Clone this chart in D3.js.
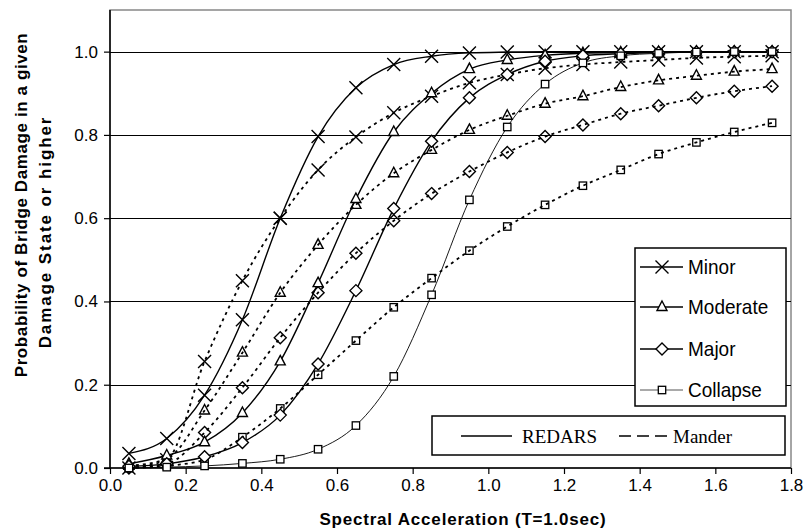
<!DOCTYPE html>
<html>
<head>
<meta charset="utf-8">
<script src="https://cdn.jsdelivr.net/npm/d3@7"></script>
<style>
body { margin:0; background:#fff; }
text { font-family: "Liberation Sans", Arial, sans-serif; fill:#000; }
</style>
</head>
<body>
<div id="chart"></div>
<script>
// spectral acceleration values (x)
var sa = [0.05, 0.15, 0.25, 0.35, 0.45, 0.55, 0.65, 0.75, 0.85, 0.95, 1.05, 1.15, 1.25, 1.35, 1.45, 1.55, 1.65, 1.75];

// REDARS curves
var redarsMinor    = [0.035, 0.071, 0.175, 0.356, 0.600, 0.796, 0.913, 0.969, 0.989, 0.997, 0.999, 1.0, 1.0, 1.0, 1.0, 1.0, 1.0, 1.0];
var redarsModerate = [0.010, 0.030, 0.062, 0.132, 0.256, 0.444, 0.646, 0.807, 0.900, 0.958, 0.980, 0.991, 0.996, 0.998, 0.999, 1.0, 1.0, 1.0];
var redarsMajor    = [0.004, 0.010, 0.027, 0.061, 0.127, 0.250, 0.426, 0.623, 0.785, 0.889, 0.945, 0.977, 0.990, 0.995, 0.998, 0.999, 1.0, 1.0];
var redarsCollapse = [0.000, 0.002, 0.005, 0.011, 0.021, 0.045, 0.102, 0.220, 0.416, 0.644, 0.819, 0.922, 0.973, 0.990, 0.996, 0.999, 1.0, 1.0];

// Mander curves
var manderMinor    = [0.000, 0.020, 0.256, 0.450, 0.600, 0.716, 0.795, 0.853, 0.893, 0.925, 0.945, 0.960, 0.969, 0.975, 0.980, 0.985, 0.988, 0.990];
var manderModerate = [0.005, 0.022, 0.138, 0.277, 0.421, 0.536, 0.632, 0.708, 0.764, 0.812, 0.846, 0.875, 0.893, 0.915, 0.931, 0.942, 0.952, 0.958];
var manderMajor    = [0.000, 0.010, 0.085, 0.193, 0.313, 0.421, 0.516, 0.594, 0.659, 0.712, 0.758, 0.796, 0.824, 0.851, 0.870, 0.889, 0.905, 0.917];
var manderCollapse = [0.000, 0.005, 0.020, 0.074, 0.143, 0.224, 0.306, 0.386, 0.456, 0.522, 0.580, 0.632, 0.678, 0.716, 0.754, 0.782, 0.807, 0.829];

var xTicks = [0, 0.2, 0.4, 0.6, 0.8, 1.0, 1.2, 1.4, 1.6, 1.8];
var yTicks = [0, 0.2, 0.4, 0.6, 0.8, 1.0];
var stateNames = ['Minor', 'Moderate', 'Major', 'Collapse'];
var stateMarkers = ['cross', 'triangle', 'diamond', 'square'];

var width = 804, height = 531;
var pLeft = 110, pRight = 791, pTop = 10, pBottom = 468;

var svg = d3.select('#chart').append('svg')
	.attr('width', width)
	.attr('height', height);

var x = d3.scaleLinear().domain([0, 1.8]).range([pLeft, pRight]);
var y = d3.scaleLinear().domain([0, 1.1]).range([pBottom, pTop]);

// plot frame
svg.append('rect')
	.attr('x', pLeft).attr('y', pTop)
	.attr('width', pRight-pLeft).attr('height', pBottom-pTop)
	.attr('fill', 'none').attr('stroke', '#888').attr('stroke-width', 1.5);

// gridlines
svg.selectAll('.grid').data(yTicks.slice(1)).enter().append('line')
	.attr('x1', pLeft).attr('x2', pRight)
	.attr('y1', function(d){ return Math.round(y(d))+0.5; })
	.attr('y2', function(d){ return Math.round(y(d))+0.5; })
	.attr('stroke', '#000').attr('stroke-width', 1);

// axes
var xAxis = svg.append('g')
	.attr('transform', 'translate(0,' + pBottom + ')')
	.call(d3.axisBottom(x).tickValues(xTicks).tickSize(6).tickPadding(5).tickFormat(d3.format('.1f')));
var yAxis = svg.append('g')
	.attr('transform', 'translate(' + pLeft + ',0)')
	.call(d3.axisLeft(y).tickValues(yTicks).tickSize(6).tickPadding(6).tickFormat(d3.format('.1f')));

[xAxis, yAxis].forEach(function(g){
	g.select('.domain').remove();
	g.selectAll('line').attr('stroke', '#000').attr('stroke-width', 1.2);
	g.selectAll('text').style('font-size', '17px').style('font-family', '"Liberation Sans", Arial, sans-serif');
});
svg.append('line').attr('x1', pLeft).attr('x2', pLeft).attr('y1', pTop).attr('y2', pBottom)
	.attr('stroke', '#000').attr('stroke-width', 1.5);
svg.append('line').attr('x1', pLeft-6).attr('x2', pRight).attr('y1', pBottom).attr('y2', pBottom)
	.attr('stroke', '#000').attr('stroke-width', 1.5);

// axis titles
svg.append('text')
	.attr('x', 463).attr('y', 525)
	.attr('text-anchor', 'middle')
	.style('font-size', '17px').style('font-weight', 'bold').style('letter-spacing', '0.8px')
	.text('Spectral Acceleration (T=1.0sec)');

var yt = svg.append('text')
	.attr('transform', 'translate(0,205) rotate(-90)')
	.attr('text-anchor', 'middle')
	.style('font-size', '17px').style('font-weight', 'bold').style('letter-spacing', '0.6px');
yt.append('tspan').attr('x', 0).attr('y', 27).text('Probability of Bridge Damage in a given');
yt.append('tspan').attr('x', -27).attr('y', 51).style('letter-spacing', '1.9px').text('Damage State or higher');

// markers
function drawMarker(g, type, cx, cy, fill){
	if(type == 'cross'){
		g.append('path')
			.attr('d', 'M' + (cx-6.5) + ',' + (cy-6.5) + 'L' + (cx+6.5) + ',' + (cy+6.5) +
				'M' + (cx-6.5) + ',' + (cy+6.5) + 'L' + (cx+6.5) + ',' + (cy-6.5))
			.attr('stroke', '#000').attr('stroke-width', 1.4).attr('fill', 'none');
	}else if(type == 'triangle'){
		g.append('path')
			.attr('d', 'M' + cx + ',' + (cy-6) + 'L' + (cx+5) + ',' + (cy+3.5) + 'L' + (cx-5) + ',' + (cy+3.5) + 'Z')
			.attr('stroke', '#000').attr('stroke-width', 1.4).attr('fill', fill);
	}else if(type == 'diamond'){
		g.append('path')
			.attr('d', 'M' + cx + ',' + (cy-6) + 'L' + (cx+6) + ',' + cy + 'L' + cx + ',' + (cy+6) + 'L' + (cx-6) + ',' + cy + 'Z')
			.attr('stroke', '#000').attr('stroke-width', 1.4).attr('fill', fill);
	}else{
		g.append('rect')
			.attr('x', cx-3.7).attr('y', cy-3.7).attr('width', 7.4).attr('height', 7.4)
			.attr('stroke', '#000').attr('stroke-width', 1.3).attr('fill', fill);
	}
}

var line = d3.line()
	.x(function(d){ return x(d[0]); })
	.y(function(d){ return y(d[1]); })
	.curve(d3.curveMonotoneX);

var manderSets = [manderMinor, manderModerate, manderMajor, manderCollapse];
var redarsSets = [redarsMinor, redarsModerate, redarsMajor, redarsCollapse];

function drawSeries(values, marker, dashed, thin){
	var pts = sa.map(function(s, i){ return [s, values[i]]; });
	var g = svg.append('g');
	g.append('path')
		.attr('d', line(pts))
		.attr('fill', 'none')
		.attr('stroke', '#000')
		.attr('stroke-width', dashed ? 1.8 : (thin ? 0.9 : 1.4))
		.attr('stroke-dasharray', dashed ? '3,4' : null);
	pts.forEach(function(p){
		drawMarker(g, marker, x(p[0]), y(p[1]), dashed ? 'none' : '#fff');
	});
}

manderSets.forEach(function(v, i){ drawSeries(v, stateMarkers[i], true, false); });
redarsSets.forEach(function(v, i){ drawSeries(v, stateMarkers[i], false, i == 3); });

// legend: damage states
var lg = svg.append('g');
lg.append('rect').attr('x', 635).attr('y', 248).attr('width', 151).attr('height', 158)
	.attr('fill', '#fff').attr('stroke', '#000').attr('stroke-width', 1.5);
var legY = [267, 307, 349, 390];
stateNames.forEach(function(name, i){
	lg.append('line').attr('x1', 640).attr('x2', 683).attr('y1', legY[i]).attr('y2', legY[i])
		.attr('stroke', i == 3 ? '#555' : '#000').attr('stroke-width', i == 3 ? 1 : 1.4);
	drawMarker(lg, stateMarkers[i], 662, legY[i], '#fff');
	lg.append('text')
		.attr('transform', 'translate(688,' + (legY[i]+7) + ') scale(1,1.1)')
		.style('font-size', '19px')
		.text(name);
});

// legend: source
var lg2 = svg.append('g');
lg2.append('rect').attr('x', 432).attr('y', 416).attr('width', 353).attr('height', 39)
	.attr('fill', '#fff').attr('stroke', '#000').attr('stroke-width', 1.5);
lg2.append('line').attr('x1', 461).attr('x2', 512).attr('y1', 436).attr('y2', 436)
	.attr('stroke', '#000').attr('stroke-width', 1.4);
lg2.append('text').attr('x', 522).attr('y', 443)
	.style('font-family', '"Liberation Serif", "Times New Roman", serif').style('font-size', '19px')
	.text('REDARS');
lg2.append('line').attr('x1', 619).attr('x2', 673).attr('y1', 436).attr('y2', 436)
	.attr('stroke', '#000').attr('stroke-width', 1.4).attr('stroke-dasharray', '12,6');
lg2.append('text').attr('x', 673).attr('y', 443)
	.style('font-family', '"Liberation Serif", "Times New Roman", serif').style('font-size', '19px')
	.text('Mander');
</script>
</body>
</html>
